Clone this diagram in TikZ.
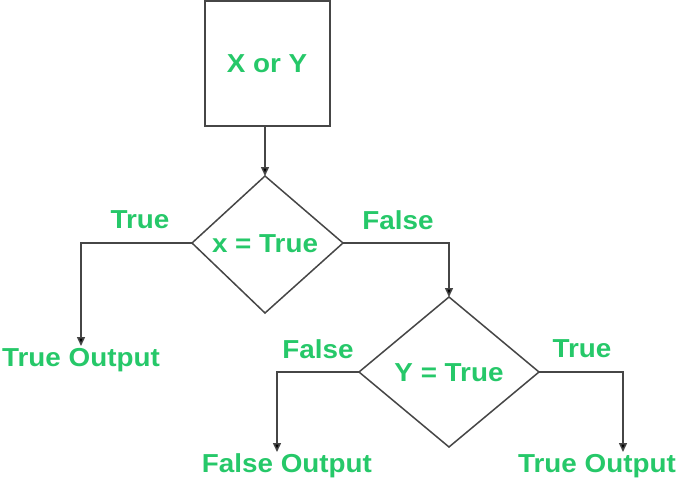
\documentclass[tikz,border=0pt]{standalone}
\usepackage{fontspec}
\setmainfont{Liberation Sans}
\usetikzlibrary{shapes.geometric,arrows.meta}
\definecolor{lbl}{RGB}{38,200,105}
\definecolor{ln}{RGB}{70,70,70}
\tikzset{
  x=1pt,y=-1pt,
  txt/.style={text=lbl,font=\fontsize{26}{29}\selectfont\bfseries,inner sep=0pt,xscale=1.07},
  shp/.style={draw=ln,line width=1.5pt},
  conn/.style={draw=ln,line width=1.5pt,-{Triangle[length=9pt,width=8pt,fill=black]}},
}
\begin{document}
\begin{tikzpicture}
\useasboundingbox (0,0) rectangle (681,487);
% box
\draw[shp] (205,1) rectangle (330,126);
\node[txt] (b) at (267,64) {X or Y};
\coordinate (bb) at (265,126);
% diamond 1
\draw[shp] (265,176) -- (343,243) -- (265,313) -- (192,243) -- cycle;
\coordinate (d1t) at (265,176);
\coordinate (d1l) at (192,243);
\coordinate (d1r) at (343,243);
\node[txt] (d1) at (265,244) {x = True};
% diamond 2
\draw[shp] (449,297) -- (539,372) -- (449,447) -- (359,372) -- cycle;
\coordinate (d2t) at (449,297);
\coordinate (d2l) at (359,372);
\coordinate (d2r) at (539,372);
\node[txt] (d2) at (449,373) {Y = True};
% outputs
\node[txt] (o1) at (81,360) {True Output};
\node[txt] (o2) at (287,466) {False Output};
\node[txt] (o3) at (597,466) {True Output};
\coordinate (o1t) at (81,346);
\coordinate (o2t) at (277,452);
\coordinate (o3t) at (623,452);
% labels
\node[txt] (l1) at (140,220) {True};
\node[txt] (l2) at (398,220) {False};
\node[txt] (l3) at (318,349) {False};
\node[txt] (l4) at (582,349) {True};
% connectors
\draw[conn] (bb) -- (d1t);
\draw[conn] (d1l) -| (o1t);
\draw[conn] (d1r) -| (d2t);
\draw[conn] (d2l) -| (o2t);
\draw[conn] (d2r) -| (o3t);
\end{tikzpicture}
\end{document}
